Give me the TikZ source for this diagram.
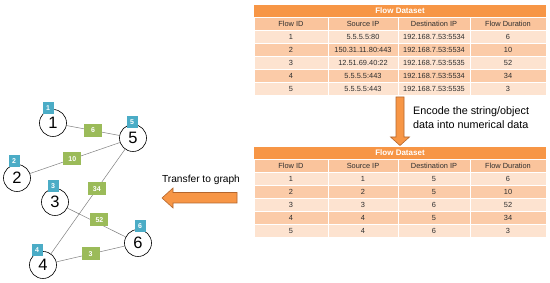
\documentclass[tikz,border=0pt]{standalone}
\usepackage{fontspec}
\setmainfont{Liberation Sans}
\definecolor{tTitle}{HTML}{F79646}
\definecolor{tHead}{HTML}{FAC49C}
\definecolor{tRowA}{HTML}{FDE3D0}
\definecolor{tRowB}{HTML}{FBCBA8}
\definecolor{arrFill}{HTML}{F79646}
\definecolor{arrLine}{HTML}{B4662D}
\definecolor{badgeBlue}{HTML}{4BACC6}
\definecolor{labGreen}{HTML}{9BBB59}
\definecolor{edgeGrey}{HTML}{808080}
\definecolor{txt}{HTML}{2E2E2E}
\tikzset{
  cellbox/.style={draw=white, line width=0.7pt, inner sep=0pt, minimum height=13pt,
    font=\fontsize{7.4}{8}\selectfont, text=txt},
  titlebox/.style={fill=tTitle, inner sep=0pt, minimum height=12pt, minimum width=292pt,
    font=\fontsize{8}{8}\selectfont\bfseries, text=white},
  gnode/.style={circle, draw=black, line width=0.6pt, fill=white, minimum size=27pt,
    inner sep=0pt, font=\fontsize{16.5}{16.5}\selectfont},
  badge/.style={fill=badgeBlue, minimum width=11pt, minimum height=12pt, inner sep=0pt,
    font=\fontsize{7}{7}\selectfont\bfseries, text=white},
  elab/.style={fill=labGreen, minimum width=18pt, minimum height=13pt, inner sep=0pt,
    font=\fontsize{7}{7}\selectfont\bfseries, text=white},
  gedge/.style={draw=edgeGrey, line width=0.5pt},
  bigarrow/.style={fill=arrFill, draw=arrLine, line width=0.6pt, line join=miter},
  caption/.style={font=\fontsize{10.8}{14}\selectfont, text=black, inner sep=0pt}
}
\begin{document}
\begin{tikzpicture}[x=1pt,y=-1pt]
\useasboundingbox[fill=white] (0,0) rectangle (550,283);

% ---------- Table 1 ----------
\node[titlebox] (t1title) at (400,11) {Flow Dataset};
\foreach \cx/\w/\h [count=\j] in {291/74/Flow ID,363/70/Source IP,434/72/Destination IP,508/76/Flow Duration}
  \node[cellbox, fill=tHead, minimum width=\w pt] (t1h\j) at (\cx,23.75) {\h};
\foreach \a/\b/\c/\d [count=\i] in {1/5.5.5.5:80/192.168.7.53:5534/6,
    2/150.31.11.80:443/192.168.7.53:5534/10,
    3/12.51.69.40:22/192.168.7.53:5535/52,
    4/5.5.5.5:443/192.168.7.53:5534/34,
    5/5.5.5.5:443/192.168.7.53:5535/3}{
  \ifodd\i \def\fc{tRowA}\else\def\fc{tRowB}\fi
  \node[cellbox, fill=\fc, minimum width=74pt] (t1r\i a) at (291,24+13*\i) {\a};
  \node[cellbox, fill=\fc, minimum width=70pt] (t1r\i b) at (363,24+13*\i) {\b};
  \node[cellbox, fill=\fc, minimum width=72pt] (t1r\i c) at (434,24+13*\i) {\c};
  \node[cellbox, fill=\fc, minimum width=76pt] (t1r\i d) at (508,24+13*\i) {\d};
}

% ---------- Table 2 ----------
\node[titlebox] (t2title) at (400,153) {Flow Dataset};
\foreach \cx/\w/\h [count=\j] in {291/74/Flow ID,363/70/Source IP,434/72/Destination IP,508/76/Flow Duration}
  \node[cellbox, fill=tHead, minimum width=\w pt] (t2h\j) at (\cx,165.5) {\h};
\foreach \a/\b/\c/\d [count=\i] in {1/1/5/6,2/2/5/10,3/3/6/52,4/4/5/34,5/4/6/3}{
  \ifodd\i \def\fc{tRowA}\else\def\fc{tRowB}\fi
  \node[cellbox, fill=\fc, minimum width=74pt] (t2r\i a) at (291,165.5+13*\i) {\a};
  \node[cellbox, fill=\fc, minimum width=70pt] (t2r\i b) at (363,165.5+13*\i) {\b};
  \node[cellbox, fill=\fc, minimum width=72pt] (t2r\i c) at (434,165.5+13*\i) {\c};
  \node[cellbox, fill=\fc, minimum width=76pt] (t2r\i d) at (508,165.5+13*\i) {\d};
}

% ---------- Down arrow ----------
\draw[bigarrow] (396,97) -- (404,97) -- (404,137) -- (409.5,137) -- (400,145.5)
  -- (390.5,137) -- (396,137) -- cycle;
\node[caption, anchor=north west, align=left] (enc) at (413,106)
  {Encode the string/object\\data into numerical data};

% ---------- Left arrow ----------
\draw[bigarrow] (237,192.5) -- (237,203) -- (173,203) -- (173,208) -- (162,198)
  -- (173,188) -- (173,192.5) -- cycle;
\node[caption, font=\fontsize{10.2}{12}\selectfont] (tr) at (201,179.5) {Transfer to graph};

% ---------- Graph ----------
\node[gnode] (n1) at (53,123) {1};
\node[gnode] (n5) at (133,138) {5};
\node[gnode] (n2) at (17,178) {2};
\node[gnode] (n3) at (55,202) {3};
\node[gnode] (n6) at (138,243) {6};
\node[gnode] (n4) at (43,265) {4};

\draw[gedge] (n1) -- node[elab, pos=0.5] {6} (n5);
\draw[gedge] (n2) -- node[elab, pos=0.47] {10} (n5);
\draw[gedge] (n5) -- node[elab, pos=0.38] {34} (n4);
\draw[gedge] (n3) -- node[elab, pos=0.55, yshift=4pt] {52} (n6);
\draw[gedge] (n4) -- node[elab, pos=0.5] {3} (n6);

\node[badge] (b1) at (48,108) {1};
\node[badge] (b5) at (132,122) {5};
\node[badge] (b2) at (14,161) {2};
\node[badge] (b3) at (53,186) {3};
\node[badge] (b6) at (140,226) {6};
\node[badge] (b4) at (37,250) {4};
\end{tikzpicture}
\end{document}
